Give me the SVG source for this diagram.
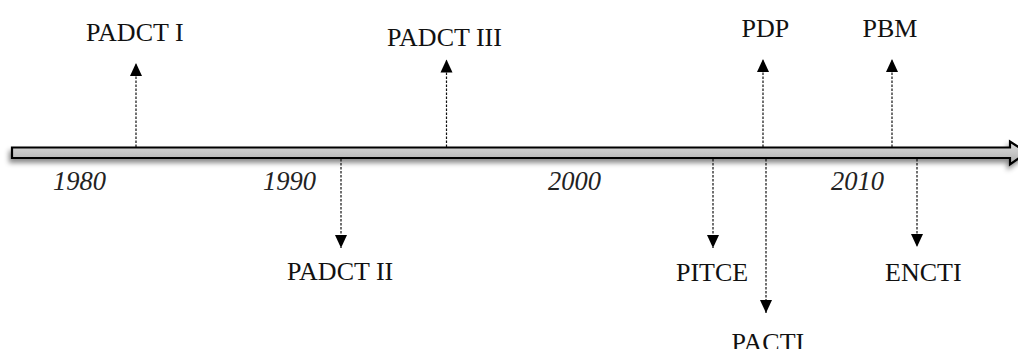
<svg xmlns="http://www.w3.org/2000/svg" width="1018" height="349" viewBox="0 0 1018 349">
<style>
.lbl{font-family:"Liberation Serif","Times New Roman",serif;font-size:26px;fill:#111}
.yr{font-family:"Liberation Serif","Times New Roman",serif;font-size:26.5px;font-style:italic;fill:#222}
.con{stroke:#111;stroke-width:1.2;stroke-dasharray:2.5 1.5;fill:none;marker-end:url(#ah)}
</style>
<defs>
<linearGradient id="bg" x1="0" y1="0" x2="0" y2="1">
<stop offset="0" stop-color="#dcdcdc"/>
<stop offset="0.5" stop-color="#c6c6c6"/>
<stop offset="1" stop-color="#a8a8a8"/>
</linearGradient>
<filter id="sh" x="-5%" y="-50%" width="110%" height="250%">
<feDropShadow dx="-2" dy="4" stdDeviation="2.5" flood-color="#000" flood-opacity="0.45"/>
</filter>
<marker id="ah" markerUnits="userSpaceOnUse" markerWidth="14" markerHeight="14" viewBox="0 0 14 14" refX="13" refY="7" orient="auto">
<path d="M0,1 L13,7 L0,13 Z" fill="#000"/>
</marker>
</defs>
<g id="timeline">
<path d="M12,147.5 L1010,147.5 L1010,141.5 L1027,152.5 L1010,164.5 L1010,158 L12,158 Z" fill="url(#bg)" stroke="#000" stroke-width="2.2" stroke-linejoin="miter" filter="url(#sh)"/>
</g>
<g id="years">
<text class="yr" x="53" y="190">1980</text>
<text class="yr" x="263" y="190">1990</text>
<text class="yr" x="548" y="189.5">2000</text>
<text class="yr" x="831" y="189.5">2010</text>
</g>
<g id="connectors">
<line class="con" x1="136" y1="147" x2="136" y2="63"/>
<line class="con" x1="446.5" y1="147" x2="446.5" y2="59.5"/>
<line class="con" x1="763" y1="147" x2="763" y2="59"/>
<line class="con" x1="892" y1="147" x2="892" y2="59"/>
<line class="con" x1="341" y1="159" x2="341" y2="248"/>
<line class="con" x1="713" y1="159" x2="713" y2="248"/>
<line class="con" x1="917" y1="159" x2="917" y2="247"/>
<line class="con" x1="766" y1="159" x2="766" y2="313"/>
</g>
<g id="n-padct1"><text class="lbl" x="86" y="40.5">PADCT I</text></g>
<g id="n-padct3"><text class="lbl" x="387" y="45.5">PADCT III</text></g>
<g id="n-pdp"><text class="lbl" x="741.5" y="36.5">PDP</text></g>
<g id="n-pbm"><text class="lbl" x="862.5" y="36.5">PBM</text></g>
<g id="n-padct2"><text class="lbl" x="287" y="279.5">PADCT II</text></g>
<g id="n-pitce"><text class="lbl" x="676" y="281">PITCE</text></g>
<g id="n-encti"><text class="lbl" x="885" y="281">ENCTI</text></g>
<g id="n-pacti"><text class="lbl" x="731.5" y="351">PACTI</text></g>
</svg>
